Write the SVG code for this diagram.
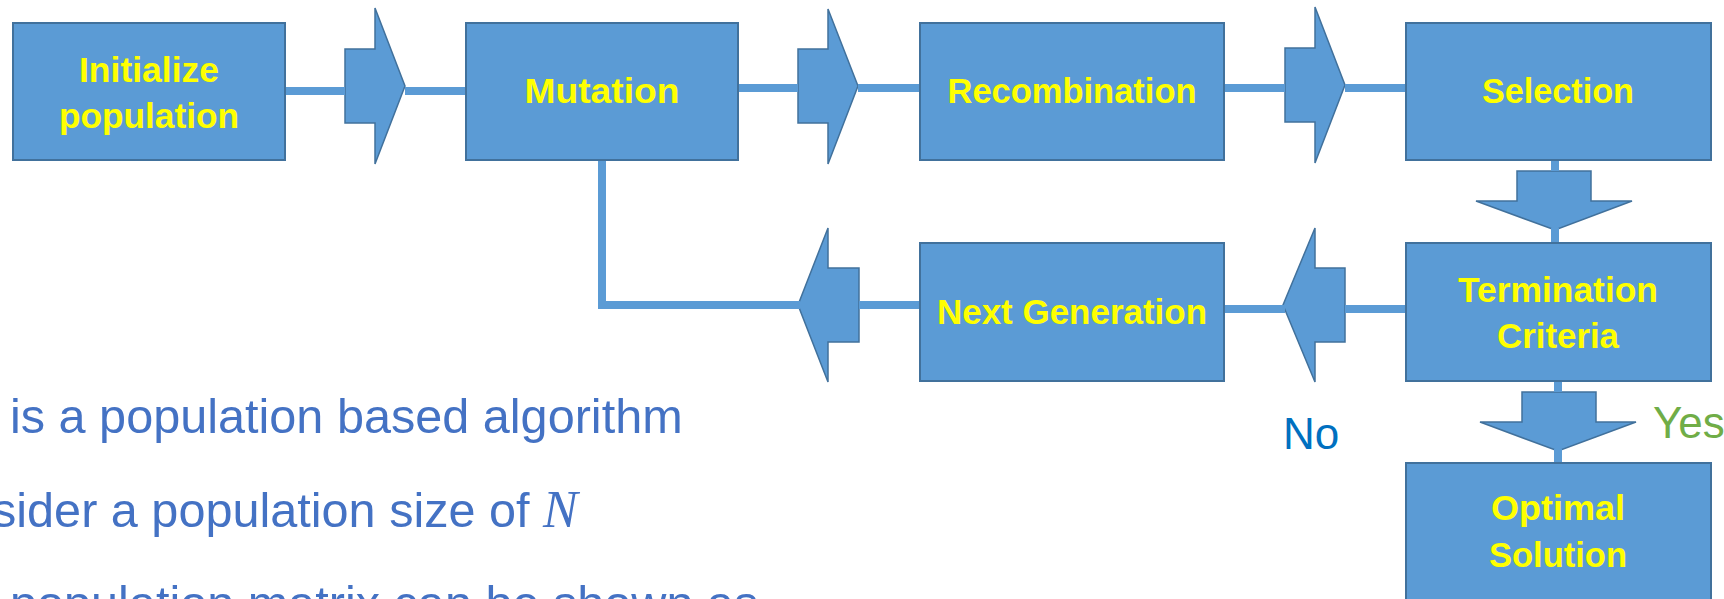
<svg xmlns="http://www.w3.org/2000/svg" width="1724" height="599" viewBox="0 0 1724 599">
<style>
.box{fill:#5B9BD5;stroke:#41719C;stroke-width:2}
.lbl{font-family:"Liberation Sans",Arial,sans-serif;font-weight:bold;font-size:35px;fill:#FFFF00;text-anchor:middle}
.ln{fill:none;stroke:#5B9BD5;stroke-width:8}
.arr{fill:#5B9BD5;stroke:#41719C;stroke-width:1.5;stroke-linejoin:miter}
.body{font-family:"Liberation Sans",Arial,sans-serif;font-size:48.6px;fill:#4472C4}
</style>
<rect width="1724" height="599" fill="#FFFFFF"/>
<g id="connectors">
<polygon class="arr" points="345,49 375,49 375,8 405,86 375,164 375,123 345,123"/>
<polygon class="arr" points="798,49 828,49 828,9 858,86 828,164 828,123 798,123"/>
<polygon class="arr" points="1285,48 1315,48 1315,7 1345,85 1315,163 1315,122 1285,122"/>
<polygon class="arr" points="1517,171 1591,171 1591,201 1632,201 1555,230 1476,201 1517,201"/>
<polygon class="arr" points="1522,392 1596,392 1596,422 1636,422 1558,451 1480,422 1522,422"/>
<polygon class="arr" points="859,268 828,268 828,228 798,305 828,382 828,342 859,342"/>
<polygon class="arr" points="1345,268 1315,268 1315,228 1283,305 1315,382 1315,342 1345,342"/>
<path class="ln" d="M285,91 H345 M405,91 H466"/>
<path class="ln" d="M738,88 H798 M858,88 H920"/>
<path class="ln" d="M1224,88 H1285 M1345,88 H1406"/>
<path class="ln" d="M1555,160 V171 M1555,228 V243"/>
<path class="ln" d="M1558,381 V392 M1558,449 V463"/>
<path class="ln" d="M602,160 V305 H800"/>
<path class="ln" d="M859,305 H920"/>
<path class="ln" d="M1224,309 H1285 M1345,309 H1406"/>
</g>
<g id="init">
<rect class="box" x="13" y="23" width="272" height="137"/>
<text class="lbl" x="149" y="82" textLength="140" lengthAdjust="spacingAndGlyphs">Initialize</text>
<text class="lbl" x="149" y="128" textLength="180" lengthAdjust="spacingAndGlyphs">population</text>
</g>
<g id="mutation">
<rect class="box" x="466" y="23" width="272" height="137"/>
<text class="lbl" x="602" y="103" textLength="155" lengthAdjust="spacingAndGlyphs">Mutation</text>
</g>
<g id="recombination">
<rect class="box" x="920" y="23" width="304" height="137"/>
<text class="lbl" x="1072" y="103" textLength="249" lengthAdjust="spacingAndGlyphs">Recombination</text>
</g>
<g id="selection">
<rect class="box" x="1406" y="23" width="305" height="137"/>
<text class="lbl" x="1558" y="103" textLength="152" lengthAdjust="spacingAndGlyphs">Selection</text>
</g>
<g id="nextgen">
<rect class="box" x="920" y="243" width="304" height="138"/>
<text class="lbl" x="1072" y="324" textLength="270" lengthAdjust="spacingAndGlyphs">Next Generation</text>
</g>
<g id="termination">
<rect class="box" x="1406" y="243" width="305" height="138"/>
<text class="lbl" x="1558" y="302" textLength="200" lengthAdjust="spacingAndGlyphs">Termination</text>
<text class="lbl" x="1558" y="348" textLength="122" lengthAdjust="spacingAndGlyphs">Criteria</text>
</g>
<g id="optimal">
<rect class="box" x="1406" y="463" width="305" height="150"/>
<text class="lbl" x="1558" y="520" textLength="134" lengthAdjust="spacingAndGlyphs">Optimal</text>
<text class="lbl" x="1558" y="567" textLength="138" lengthAdjust="spacingAndGlyphs">Solution</text>
</g>
<g id="labels">
<text x="1283" y="449" font-family="Liberation Sans, Arial, sans-serif" font-size="44" fill="#0070C0">No</text>
<text x="1653" y="438" font-family="Liberation Sans, Arial, sans-serif" font-size="44" fill="#70AD47">Yes</text>
</g>
<g id="bodytext">
<text class="body" x="10" y="433">is a population based algorithm</text>
<text class="body" x="-8" y="527">sider a population size of <tspan x="543" font-family="Liberation Serif, 'Times New Roman', serif" font-style="italic" font-size="52">N</tspan></text>
<text class="body" x="10" y="620">population matrix can be shown as</text>
</g>
</svg>
